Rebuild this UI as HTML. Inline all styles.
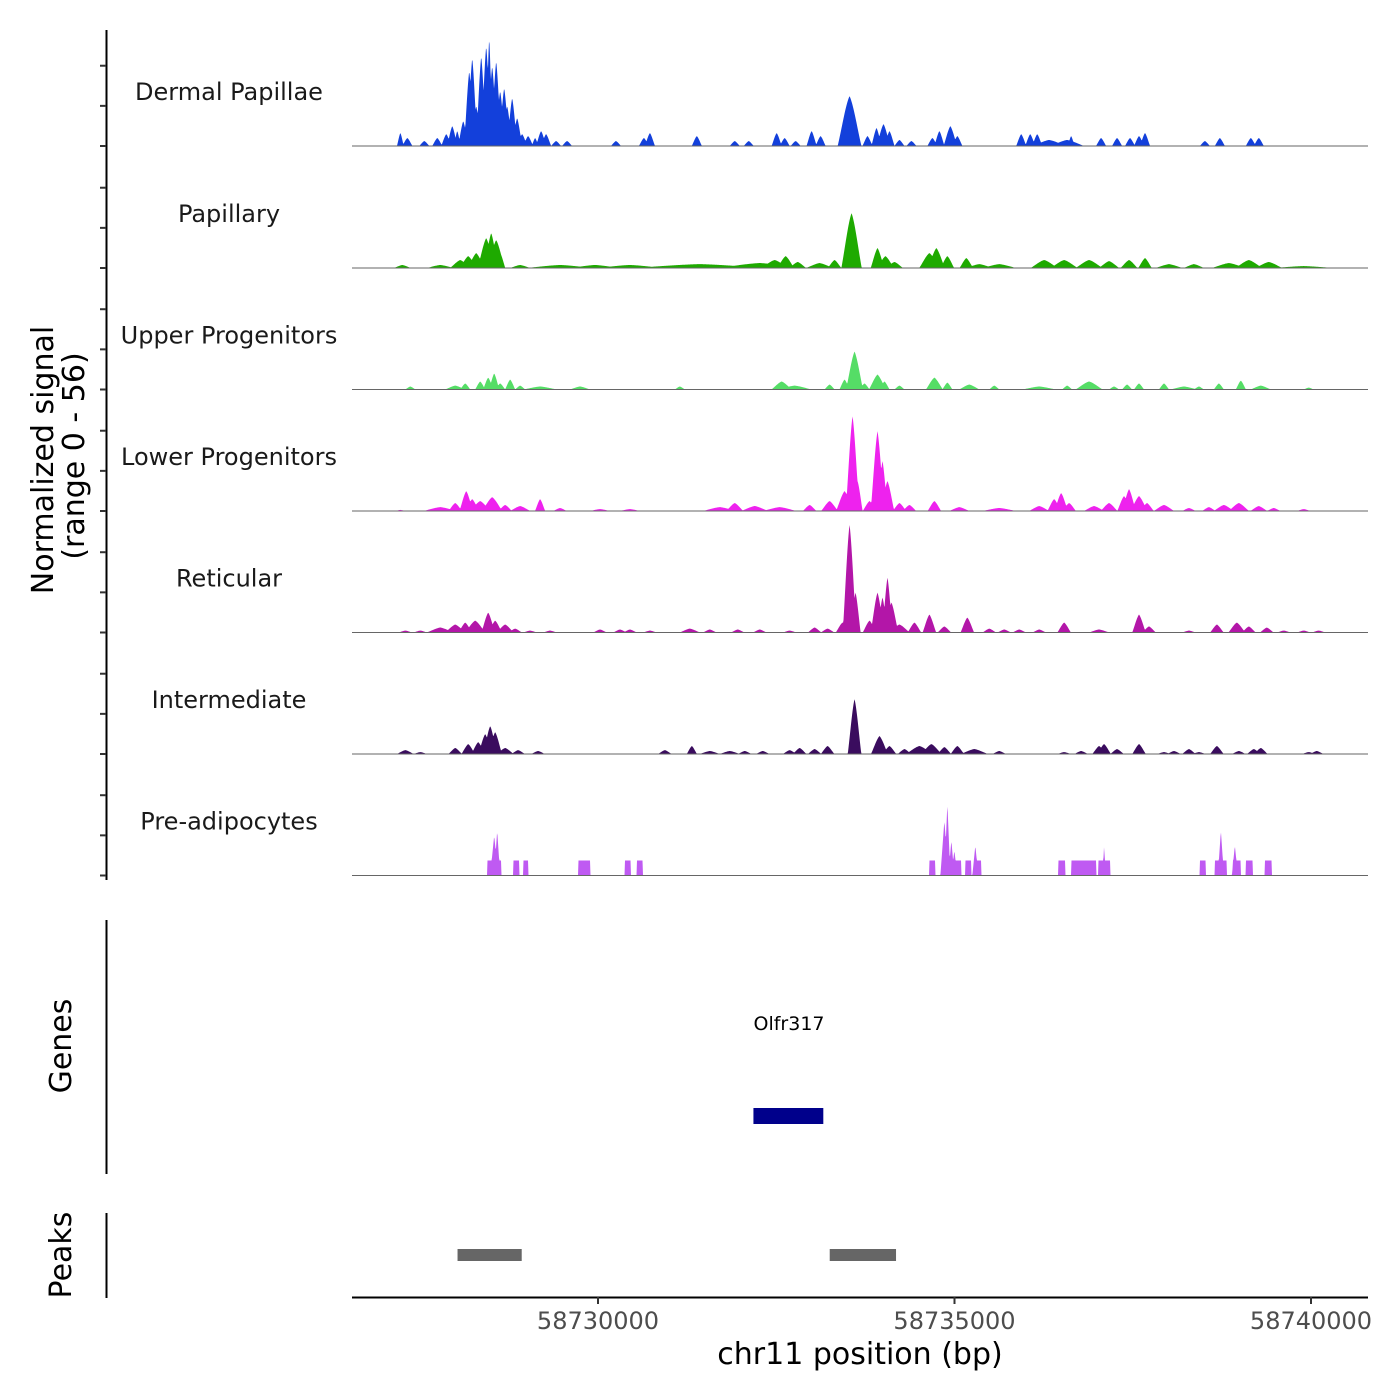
<!DOCTYPE html>
<html><head><meta charset="utf-8">
<style>
html,body{margin:0;padding:0;background:#fff;}
svg{display:block;font-family:"DejaVu Sans","Liberation Sans",sans-serif;}
</style></head>
<body>
<svg id="chart" width="1400" height="1400" viewBox="0 0 1400 1400" xmlns="http://www.w3.org/2000/svg">
<rect width="1400" height="1400" fill="#fff"/>
<g id="tracks"></g>
<g id="yaxis"></g>
<text transform="translate(53,460) rotate(-90)" text-anchor="middle" font-size="30" fill="#000">Normalized signal</text>
<text transform="translate(84,456) rotate(-90)" text-anchor="middle" font-size="30" fill="#000">(range 0 - 56)</text>
<line x1="106.5" y1="920" x2="106.5" y2="1174" stroke="#000" stroke-width="2"/>
<text transform="translate(71,1046) rotate(-90)" text-anchor="middle" font-size="30" fill="#000">Genes</text>
<text x="789" y="1030" text-anchor="middle" font-size="19" fill="#000">Olfr317</text>
<g id="genes"></g>
<line x1="106.5" y1="1213" x2="106.5" y2="1298" stroke="#000" stroke-width="2"/>
<text transform="translate(71,1255) rotate(-90)" text-anchor="middle" font-size="30" fill="#000">Peaks</text>
<g id="peaks"></g>
<g id="xaxis"></g>
<text x="860" y="1364" text-anchor="middle" font-size="30" fill="#000">chr11 position (bp)</text>
</svg>
<script>
// ---- data ----
const trackNames = ["Dermal Papillae","Papillary","Upper Progenitors","Lower Progenitors","Reticular","Intermediate","Pre-adipocytes"];
const trackColors = ["#1340DB","#1EAA00","#55DD66","#EE22EE","#B316A8","#3A0C5E","#BF5AF2"];
const xTicks = [58730000,58735000,58740000];
const xTickLabels = ["58730000","58735000","58740000"];
const geneStart = [58732180];
const geneEnd = [58733160];
const peakStart = [58728030,58733250];
const peakEnd = [58728930,58734180];

const dpPos=[58727228,58727326,58727564,58727746,58727872,58727956,58728026,58728110,58728194,58728236,58728292,58728362,58728432,58728474,58728516,58728572,58728628,58728684,58728726,58728796,58728866,58728936,58729020,58729118,58729202,58729272,58729412,58729566,58730252,58730644,58730728,58731386,58731918,58732114,58732506,58732618,58732772,58732996,58733122,58733458,58733528,58733780,58733906,58734004,58734088,58734228,58734396,58734690,58734788,58734942,58735040,58735936,58736062,58736160,58736328,58736580,58736636,58737056,58737280,58737462,58737588,58737672,58738512,58738722,58739156,58739268];
const dpVal=[6.0,3.7,2.3,3.7,5.5,9.2,6.9,11.5,34.5,40.5,18.4,41.4,46.0,49.7,36.8,39.1,25.3,26.7,18.4,22.1,12.9,5.5,4.6,3.7,6.9,5.5,2.3,2.3,2.3,3.7,6.0,4.6,2.3,2.3,6.0,3.7,2.3,6.9,4.6,6.9,23.0,4.6,8.3,10.1,6.9,2.8,2.3,3.7,6.9,9.2,4.6,5.5,5.5,5.5,2.8,2.8,4.6,3.7,3.7,3.7,4.6,6.0,2.3,3.7,3.7,3.7];
const dpWid=[28,42,42,42,42,42,28,42,42,42,42,42,42,28,42,42,42,42,42,42,42,42,42,28,42,42,42,42,42,42,42,42,42,42,42,42,42,42,42,56,98,42,42,56,42,42,42,42,42,56,42,42,42,42,140,140,28,42,42,42,42,42,42,42,42,42];

const paPos=[58727256,58727788,58728068,58728180,58728292,58728432,58728502,58728572,58728628,58728908,58729468,58729958,58730448,58731428,58732268,58732478,58732632,58732800,58733108,58733318,58733556,58733920,58734032,58734158,58734648,58734746,58734900,58735166,58735348,58735628,58736258,58736538,58736888,58737168,58737448,58737672,58738008,58738358,58738848,58739128,58739408,58739898];
const paVal=[1.4,1.4,3.7,5.5,6.9,13.8,16.1,12.9,6.9,1.4,1.4,1.4,1.4,1.8,2.3,3.7,5.5,2.8,2.3,3.7,25.3,9.2,5.5,2.8,6.9,9.2,5.5,4.6,1.8,1.8,3.7,3.7,3.7,3.2,3.7,4.6,1.8,1.8,2.3,3.7,2.8,0.9];
const paWid=[70,112,84,70,70,70,56,70,42,84,280,210,280,560,350,112,70,70,112,56,84,56,70,70,84,70,56,56,112,140,112,112,112,84,70,56,112,84,140,112,112,252];

const upPos=[58727368,58727998,58728138,58728348,58728460,58728544,58728628,58728768,58728908,58729188,58729748,58731148,58732576,58732758,58733248,58733458,58733598,58733738,58733920,58734018,58734228,58734718,58734900,58735208,58735558,58736188,58736580,58736888,58737238,58737420,58737588,58737938,58738218,58738428,58738708,58739016,58739296,58739968];
const upVal=[1.4,1.8,2.8,3.7,5.5,7.4,2.8,4.6,1.8,1.4,1.4,1.4,3.7,1.8,2.3,4.6,17.5,2.8,6.9,3.7,1.8,5.5,3.2,2.3,1.8,1.4,1.8,3.7,1.4,2.3,2.8,2.8,1.4,1.4,2.8,4.1,1.8,0.9];
const upWid=[42,84,42,42,42,42,42,42,42,140,84,42,84,140,42,42,70,42,70,42,42,70,42,84,42,140,42,112,42,42,42,42,112,42,42,42,84,42];

const loPos=[58727228,58727788,58727998,58728152,58728236,58728348,58728516,58728698,58728908,58729188,58729468,58730028,58730448,58731708,58731918,58732198,58732548,58732968,58733248,58733458,58733570,58733640,58733808,58733920,58733990,58734060,58734228,58734368,58734718,58735068,58735628,58736188,58736398,58736496,58736608,58736958,58737168,58737378,58737448,58737588,58737700,58737938,58738288,58738568,58738778,58738988,58739268,58739478,58739898];
const loVal=[0.5,1.8,3.7,9.2,5.5,4.6,6.4,2.8,2.3,5.5,1.4,0.9,0.9,1.8,3.7,2.3,1.8,2.8,4.6,9.2,43.7,13.8,4.6,36.8,23.0,13.8,3.7,2.8,4.6,1.8,1.4,2.3,5.5,8.3,3.7,2.3,3.7,6.9,10.1,6.9,3.7,2.8,1.4,1.8,2.8,3.7,2.3,1.4,0.9];
const loWid=[42,140,56,56,56,84,84,56,84,42,56,84,84,140,70,112,140,56,70,70,56,42,56,56,42,56,56,56,56,84,140,84,56,56,56,84,70,56,56,70,56,84,56,56,84,84,70,56,56];

const rePos=[58727298,58727508,58727788,58727998,58728138,58728278,58728460,58728558,58728698,58728838,58729048,58729328,58730028,58730308,58730448,58730728,58731288,58731568,58731960,58732268,58732688,58733038,58733220,58733430,58733528,58733612,58733808,58733920,58733990,58734060,58734116,58734228,58734438,58734648,58734858,58735180,58735488,58735698,58735908,58736188,58736538,58737028,58737588,58737728,58738288,58738680,58738960,58739128,58739380,58739618,58739898,58740108];
const reVal=[0.9,0.9,2.3,3.7,4.6,5.5,9.2,5.5,3.7,1.8,0.9,0.9,1.4,1.4,1.4,0.9,1.8,1.4,1.4,1.4,0.9,2.3,1.8,4.6,49.7,18.4,5.5,18.4,16.1,25.3,13.8,3.7,4.6,8.3,2.8,6.9,1.8,1.4,1.4,1.4,4.6,1.4,8.3,2.8,0.9,3.7,4.6,2.8,2.3,0.9,0.9,0.9];
const reWid=[56,56,112,84,56,84,56,56,70,56,56,56,56,56,56,56,84,56,56,56,56,56,56,56,56,42,56,56,42,42,56,84,56,56,56,56,56,56,56,56,56,84,56,56,56,56,70,56,56,56,56,56];

const inPos=[58727298,58727508,58727998,58728180,58728320,58728418,58728488,58728558,58728698,58728880,58729160,58730938,58731316,58731568,58731848,58732058,58732310,58732688,58732828,58733038,58733220,58733598,58733948,58734088,58734298,58734508,58734676,58734858,58735040,58735278,58735628,58736538,58736776,58737028,58737098,58737280,58737588,58737938,58738078,58738288,58738428,58738680,58738988,58739198,58739296,58739968,58740080];
const inVal=[1.8,0.9,2.8,4.6,5.5,9.2,12.9,10.1,2.8,1.8,1.4,1.8,3.7,1.4,1.4,1.4,1.4,1.8,2.8,2.3,3.7,25.3,8.3,3.7,2.3,3.7,4.6,3.2,3.7,2.3,1.4,0.9,1.4,3.7,4.6,2.3,4.6,0.9,1.4,2.3,0.9,3.7,1.4,2.3,2.8,0.9,1.4];
const inWid=[70,56,56,56,56,56,56,56,70,56,56,56,42,84,84,56,56,56,56,56,56,56,70,56,56,112,84,56,56,112,56,56,56,56,56,56,56,56,56,56,56,56,56,56,56,56,56];

const adBlockStart=[58728446,58728810,58728950,58729720,58730378,58730546,58734648,58734830,58735152,58735292,58736454,58736636,58737014,58738442,58738652,58738904,58739086,58739352];
const adBlockEnd=[58728642,58728894,58729020,58729888,58730462,58730630,58734732,58735096,58735236,58735376,58736552,58736986,58737182,58738526,58738820,58739016,58739184,58739450];
const adBlockVal=[6.9,6.9,6.9,6.9,6.9,6.9,6.9,6.9,6.9,6.9,6.9,6.9,6.9,6.9,6.9,6.9,6.9,6.9];
const adPos=[58728544,58728586,58734858,58734900,58734956,58734998,58735292,58737098,58738736,58738932];
const adVal=[18.4,20.7,25.3,33.1,16.1,11.5,13.8,13.8,20.7,13.8];
const adWid=[56,42,56,42,42,42,42,21,42,42];

// ---- scales ----
const X0=352, X1=1368;
const PX_PER_BP = (1311-598)/10000;
function xScale(bp){ return 598 + (bp-58730000)*PX_PER_BP; }
function bpAt(px){ return 58730000 + (px-598)/PX_PER_BP; }
const TRACK_H = 121.5, YMAX = 56;
function yScale(v, base){ return base - v/YMAX*TRACK_H; }
const baselines=[146,268,389.5,511,632.5,754,875.5];
const SPREAD=[1.7,1.7,1.7,1.7,1.7,1.7,1.0];
const NS="http://www.w3.org/2000/svg";

const peakSets=[[dpPos,dpVal,dpWid],[paPos,paVal,paWid],[upPos,upVal,upWid],[loPos,loVal,loWid],[rePos,reVal,reWid],[inPos,inVal,inWid],[adPos,adVal,adWid]];

function signalAt(t,bp){
  const [P,V,W]=peakSets[t];
  let m=0;
  for(let i=0;i<P.length;i++){
    const w=W[i]*SPREAD[t];
    const d=Math.abs(bp-P[i]);
    if(d<w){
      const r=d/w;
      const v = t===6 ? V[i]*(1-r) : V[i]*(1-r*r)*(1-0.5*r);
      if(v>m)m=v;
    }
  }
  if(t===6){
    for(let i=0;i<adBlockStart.length;i++){
      if(bp>=adBlockStart[i]&&bp<=adBlockEnd[i]&&adBlockVal[i]>m)m=adBlockVal[i];
    }
  }
  return m;
}

const gT=document.getElementById('tracks');
for(let t=0;t<trackNames.length;t++){
  const base=baselines[t];
  let d="M"+X0+" "+base;
  for(let px=X0;px<=X1;px+=0.5){
    d+=" L"+px+" "+yScale(signalAt(t,bpAt(px)),base).toFixed(2);
  }
  d+=" L"+X1+" "+base+" Z";
  const p=document.createElementNS(NS,'path');
  p.setAttribute('d',d);
  p.setAttribute('fill',trackColors[t]);
  
  
  gT.appendChild(p);
  const ln=document.createElementNS(NS,'line');
  ln.setAttribute('x1',X0);ln.setAttribute('x2',X1);
  ln.setAttribute('y1',base);ln.setAttribute('y2',base);
  ln.setAttribute('stroke','#666');ln.setAttribute('stroke-width','1');
  
  
  gT.appendChild(ln);
  const tx=document.createElementNS(NS,'text');
  tx.setAttribute('x',229);tx.setAttribute('y',base-46);
  tx.setAttribute('text-anchor','middle');tx.setAttribute('font-size','24');
  tx.setAttribute('fill','#1a1a1a');
  tx.textContent=trackNames[t];
  
  
  gT.appendChild(tx);
}

// y axis
const gY=document.getElementById('yaxis');
const yl=document.createElementNS(NS,'line');
yl.setAttribute('x1',106.5);yl.setAttribute('x2',106.5);yl.setAttribute('y1',30);yl.setAttribute('y2',880);
yl.setAttribute('stroke','#000');yl.setAttribute('stroke-width','2');


gY.appendChild(yl);
for(let t=0;t<baselines.length;t++){
  for(const v of [0,18.5,37]){
    const y=yScale(v,baselines[t]);
    const tk=document.createElementNS(NS,'line');
    tk.setAttribute('x1',100);tk.setAttribute('x2',106);tk.setAttribute('y1',y);tk.setAttribute('y2',y);
    tk.setAttribute('stroke','#333');tk.setAttribute('stroke-width','2');
    
    
    gY.appendChild(tk);
  }
}

// genes
const gG=document.getElementById('genes');
for(let i=0;i<geneStart.length;i++){
  const r=document.createElementNS(NS,'rect');
  const x=xScale(geneStart[i]), w=xScale(geneEnd[i])-x;
  r.setAttribute('x',x);r.setAttribute('y',1108);r.setAttribute('width',w);r.setAttribute('height',16);
  r.setAttribute('fill','#00008B');
  
  
  gG.appendChild(r);
}

// peaks
const gP=document.getElementById('peaks');
for(let i=0;i<peakStart.length;i++){
  const r=document.createElementNS(NS,'rect');
  const x=xScale(peakStart[i]), w=xScale(peakEnd[i])-x;
  r.setAttribute('x',x);r.setAttribute('y',1249);r.setAttribute('width',w);r.setAttribute('height',12);
  r.setAttribute('fill','#666666');
  
  
  gP.appendChild(r);
}

// x axis
const gX=document.getElementById('xaxis');
const xl=document.createElementNS(NS,'line');
xl.setAttribute('x1',X0);xl.setAttribute('x2',X1);xl.setAttribute('y1',1297.5);xl.setAttribute('y2',1297.5);
xl.setAttribute('stroke','#000');xl.setAttribute('stroke-width','2');


gX.appendChild(xl);
for(let i=0;i<xTicks.length;i++){
  const x=xScale(xTicks[i]);
  const tk=document.createElementNS(NS,'line');
  tk.setAttribute('x1',x);tk.setAttribute('x2',x);tk.setAttribute('y1',1297);tk.setAttribute('y2',1304);
  tk.setAttribute('stroke','#333');tk.setAttribute('stroke-width','2');
  
  
  gX.appendChild(tk);
  const lb=document.createElementNS(NS,'text');
  lb.setAttribute('x',x);lb.setAttribute('y',1329);lb.setAttribute('text-anchor','middle');
  lb.setAttribute('font-size','24');lb.setAttribute('fill','#4d4d4d');
  lb.textContent=xTickLabels[i];
  
  
  gX.appendChild(lb);
}
</script>
</body></html>
